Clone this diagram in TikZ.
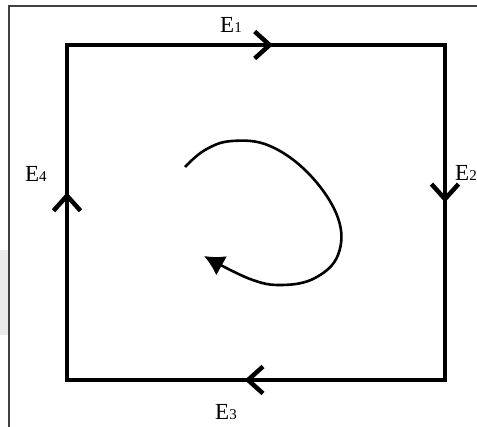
\documentclass[tikz,border=0pt]{standalone}
\usepackage{fontspec}
\setmainfont{Liberation Serif}
\usetikzlibrary{arrows.meta,decorations.markings}
\tikzset{side/.style={line width=4.5pt, line cap=rect},
  chev/.tip={Straight Barb[length=15pt, width=27pt]},
  flow/.style={postaction={decorate}, decoration={markings, mark=at position #1 with {\arrow{chev}}}},
  lbl/.style={anchor=base west, inner sep=0pt, font=\fontsize{23}{26}\selectfont},
  swirl/.style={line width=2.6pt, -{Latex[length=20pt, width=22pt]}}}
\newcommand{\sub}[1]{{\fontsize{15}{17}\selectfont #1}}

\begin{document}
\begin{tikzpicture}[x=1pt, y=-1pt]
  \useasboundingbox (0,0) rectangle (477,427);
  % frame of the scan
  \fill[black!8] (0,250) rectangle (8,335);
  \draw[black!75, line width=1.3pt] (9,440) -- (9,6) -- (490,6);
  % loop corners
  \coordinate (tl) at (67,45);
  \coordinate (tr) at (445,45);
  \coordinate (br) at (445,380);
  \coordinate (bl) at (67,380);
  \draw[side, flow=0.545] (tl) -- (tr);
  \draw[side, flow=0.47] (tr) -- (br);
  \draw[side, flow=0.53] (br) -- (bl);
  \draw[side, flow=0.56] (bl) -- (tl);
  % edge names
  \node[lbl] (e1) at (220,33) {E\sub{1}};
  \node[lbl] (e2) at (455,181) {E\sub{2}};
  \node[lbl] (e3) at (215,420) {E\sub{3}};
  \node[lbl] (e4) at (25,182) {E\sub{4}};
  % sense of circulation
  \draw[swirl] plot[smooth, tension=0.65] coordinates {(185,167) (205,150) (232,141) (270,146) (310,175) (338,218) (338,255) (315,278) (282,285) (250,279) (204,256)};
\end{tikzpicture}
\end{document}
